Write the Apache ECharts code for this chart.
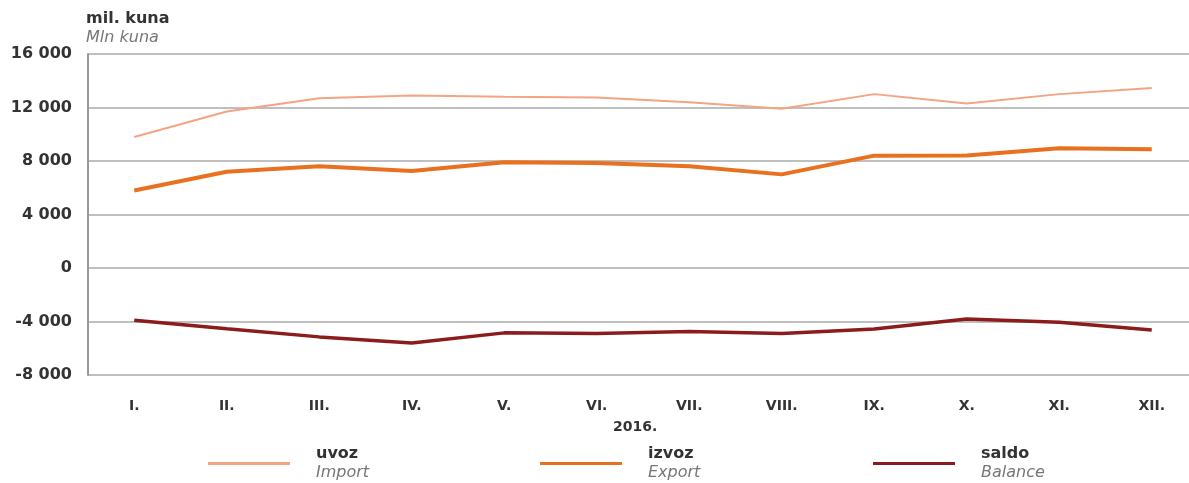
<!DOCTYPE html>
<html>
<head>
<meta charset="utf-8">
<script src="https://cdn.jsdelivr.net/npm/echarts@6/dist/echarts.min.js"></script>
<style>html,body{margin:0;padding:0;background:#fff;overflow:hidden;}#c{width:1198px;height:483px;}</style>
</head>
<body>
<div id="c"></div>
<script>
const categories = ['I.','II.','III.','IV.','V.','VI.','VII.','VIII.','IX.','X.','XI.','XII.'];
const importValues = [9800, 11700, 12700, 12900, 12800, 12750, 12400, 11900, 13000, 12300, 13000, 13450];
const exportValues = [5800, 7200, 7600, 7250, 7900, 7850, 7600, 7000, 8400, 8420, 8950, 8880];
const balanceValues = [-3900, -4550, -5150, -5600, -4850, -4900, -4750, -4890, -4560, -3820, -4060, -4640];
const seriesNames = ['uvoz', 'izvoz', 'saldo'];
const seriesNamesEn = {uvoz: 'Import', izvoz: 'Export', saldo: 'Balance'};

const font = '"DejaVu Sans", "Liberation Sans", sans-serif';
const chart = echarts.init(document.getElementById('c'));
function fmt(v){
  const s = Math.abs(v).toString();
  const t = s.length > 3 ? s.slice(0, s.length-3) + ' ' + s.slice(s.length-3) : s;
  return (v < 0 ? '-' : '') + t;
}
function legendFor(name, left){
  return {
    data: [name], left: left, top: 446, padding: 0, icon: 'rect', itemWidth: 82, itemHeight: 3, itemGap: 0,
    selectedMode: false,
    formatter: n => '{a|' + n + '}\n{b|' + seriesNamesEn[n] + '}',
    textStyle: {
      padding: [0, 0, 0, 21],
      rich: {
        a: {fontFamily: font, fontSize: 16, fontWeight: 'bold', color: '#333', lineHeight: 19},
        b: {fontFamily: font, fontSize: 16, fontStyle: 'italic', color: '#777', lineHeight: 19}
      }
    }
  };
}
chart.setOption({
  animation: false,
  backgroundColor: '#fff',
  grid: {left: 88, right: 0, top: 54, bottom: 108, containLabel: false},
  title: [
    {text: 'mil. kuna', left: 86, top: 11, padding: 0, textStyle: {fontFamily: font, fontSize: 16, fontWeight: 'bold', color: '#333'}},
    {text: 'Mln kuna', left: 86, top: 30, padding: 0, textStyle: {fontFamily: font, fontSize: 16, fontStyle: 'italic', fontWeight: 'normal', color: '#777'}},
    {text: '2016.', left: 613, top: 420, padding: 0, textStyle: {fontFamily: font, fontSize: 14, fontWeight: 'bold', color: '#333'}}
  ],
  legend: [legendFor('uvoz', 208), legendFor('izvoz', 540), legendFor('saldo', 873)],
  xAxis: {
    type: 'category', data: categories, boundaryGap: true,
    axisLine: {show: false}, axisTick: {show: false},
    axisLabel: {fontFamily: font, fontSize: 14, fontWeight: 'bold', color: '#333', margin: 24}
  },
  yAxis: {
    type: 'value', min: -8000, max: 16000, interval: 4000,
    axisLine: {show: true, lineStyle: {color: '#999', width: 2}},
    axisTick: {show: false},
    splitLine: {lineStyle: {color: '#aaa', width: 1.5}},
    axisLabel: {fontFamily: font, fontSize: 16, fontWeight: 'bold', color: '#333', margin: 16, formatter: fmt}
  },
  series: [
    {name: 'uvoz', type: 'line', data: importValues, symbol: 'none', lineStyle: {color: '#f4a383', width: 2}, itemStyle: {color: '#f4a383'}},
    {name: 'izvoz', type: 'line', data: exportValues, symbol: 'none', lineStyle: {color: '#e8701e', width: 4}, itemStyle: {color: '#e8701e'}},
    {name: 'saldo', type: 'line', data: balanceValues, symbol: 'none', lineStyle: {color: '#8c1c1c', width: 3.5}, itemStyle: {color: '#8c1c1c'}}
  ]
});
</script>
</body>
</html>
